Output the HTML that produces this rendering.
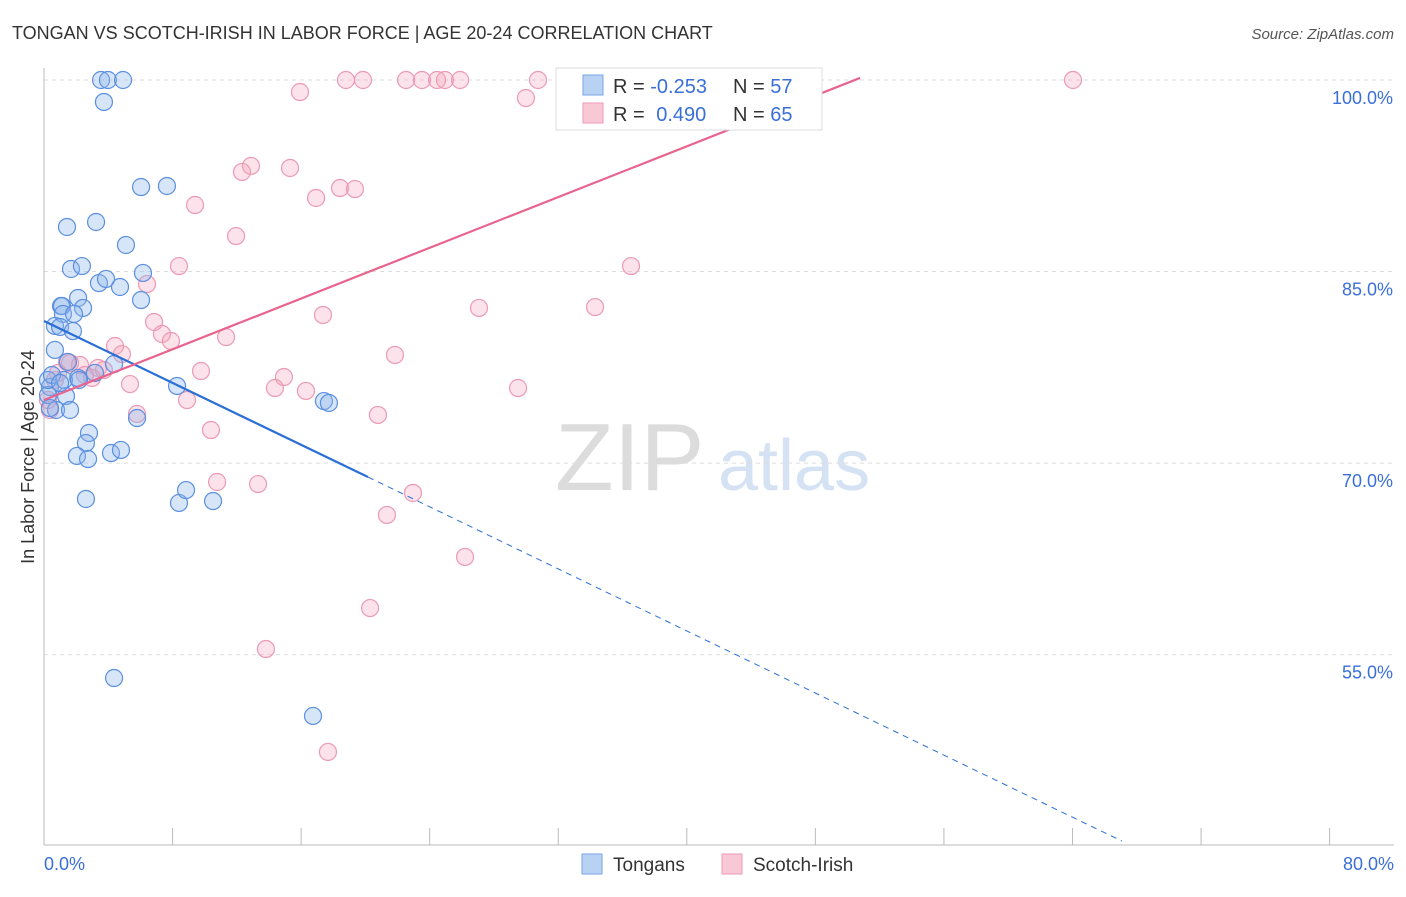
<!DOCTYPE html>
<html><head><meta charset="utf-8"><style>
body{margin:0;background:#fff;font-family:"Liberation Sans",sans-serif}
svg text{font-family:"Liberation Sans",sans-serif}
</style></head><body>
<svg id="chart" width="1406" height="892" xmlns="http://www.w3.org/2000/svg">
<text x="12" y="39" font-size="18" fill="#333">TONGAN VS SCOTCH-IRISH IN LABOR FORCE | AGE 20-24 CORRELATION CHART</text>
<text x="1394" y="39" font-size="15" fill="#555" font-style="italic" text-anchor="end">Source: ZipAtlas.com</text>
<g>
<text x="555" y="490" font-size="96" fill="#dcdcdc" font-family="Liberation Serif">ZIP</text>
<text x="718" y="490" font-size="72" fill="#d4e2f4">atlas</text>
</g>
<g id="grid"></g><g id="axes"></g><g id="pts"></g><g id="trends"></g>
<text transform="translate(34,457) rotate(-90)" font-size="18" fill="#333" text-anchor="middle">In Labor Force | Age 20-24</text>
<g>
<rect x="556" y="68" width="266" height="62" fill="#fff" stroke="#ddd"/>
<rect x="583" y="75" width="20" height="20" fill="#b8d2f4" stroke="#7aa6e6"/>
<rect x="583" y="103" width="20" height="20" fill="#f9c8d6" stroke="#ee9ab4"/>
<text x="613" y="93" font-size="20" fill="#333">R = <tspan fill="#3a6fd8">-0.253</tspan></text>
<text x="733" y="93" font-size="20" fill="#333">N = <tspan fill="#3a6fd8">57</tspan></text>
<text x="613" y="121" font-size="20" fill="#333">R = <tspan fill="#3a6fd8" dx="6">0.490</tspan></text>
<text x="733" y="121" font-size="20" fill="#333">N = <tspan fill="#3a6fd8">65</tspan></text>
</g>
<g>
<rect x="582" y="854" width="20" height="20" fill="#b8d2f4" stroke="#7aa6e6"/>
<text x="613" y="871" font-size="19" fill="#333">Tongans</text>
<rect x="722" y="854" width="20" height="20" fill="#f9c8d6" stroke="#ee9ab4"/>
<text x="753" y="871" font-size="19" fill="#333">Scotch-Irish</text>
</g>
</svg>
<script>
const tonganX=[3.55,3.98,4.92,3.73,6.04,7.65,1.43,3.24,5.10,1.68,2.36,3.42,3.86,4.73,6.16,6.04,2.12,2.43,1.06,1.12,1.18,1.87,0.68,1.00,1.80,0.68,1.49,2.12,1.24,2.18,3.17,4.36,0.37,0.25,1.37,0.75,1.62,0.37,8.28,5.79,17.42,17.73,2.80,2.61,2.05,2.74,4.17,4.79,2.61,8.40,8.84,10.52,4.36,16.74,0.25,0.50,1.00];
const tonganY=[100,100,100,98.28,91.62,91.70,88.49,88.88,87.08,85.20,85.43,84.10,84.42,83.79,84.89,82.77,82.93,82.15,82.30,82.30,81.68,81.68,80.74,80.66,80.34,78.86,77.92,76.67,76.51,76.51,77.06,77.76,75.96,75.33,75.25,74.16,74.16,74.31,76.04,73.53,74.86,74.71,72.36,71.57,70.56,70.32,70.79,71.03,67.19,66.88,67.89,67.03,53.17,50.20,76.51,76.90,76.27];
const scotchX=[18.79,19.85,22.53,23.52,24.46,24.95,25.89,30.74,33.23,37.71,43.31,44.18,64.03,15.93,29.99,12.88,12.32,15.31,18.42,19.35,16.93,9.40,11.95,8.40,6.41,36.53,27.07,34.29,17.36,6.85,7.34,7.90,11.33,4.42,4.85,21.84,1.43,1.62,2.24,3.36,3.73,0.87,2.55,2.99,5.35,9.77,14.93,14.37,16.30,29.50,8.90,5.79,20.78,0.37,10.39,10.77,13.32,22.96,21.34,26.20,20.29,13.81,17.67,0.68,0.25];
const scotchY=[100,100,100,100,100,100,100,100,100,100,100,100,100,99.06,98.59,93.27,92.80,93.11,91.54,91.46,90.76,90.21,87.78,85.43,84.02,85.43,82.15,82.22,81.60,81.05,80.11,79.56,79.87,79.17,78.54,78.47,77.92,77.84,77.68,77.45,77.29,77.06,76.90,76.67,76.19,77.21,76.74,75.88,75.65,75.88,74.94,73.85,73.77,74.16,72.59,68.52,68.36,67.66,65.94,62.65,58.65,55.44,47.38,76.51,74.94];
const yTicks=[100,85,70,55];
const yTickLabels=["100.0%","85.0%","70.0%","55.0%"];
const xTicks=[0,8,16,24,32,40,48,56,64,72,80];
const tonganTrend=[[0,81.13],[20.16,68.91],[67.08,40.4]];
const scotchTrend=[[0,74.94],[50.78,100.16]];
const X=v=>44+v*16.07, Y=v=>80+(100-v)*12.77;
const NS="http://www.w3.org/2000/svg";
function mk(tag,attrs,parent){const e=document.createElementNS(NS,tag);for(const k in attrs)e.setAttribute(k,attrs[k]);document.getElementById(parent).appendChild(e);return e;}
yTicks.forEach((t,i)=>{
 const l=mk('line',{x1:44,x2:1394,y1:Y(t),y2:Y(t),stroke:'#ddd','stroke-dasharray':'4,4'},'grid');
 
 
 const tx=mk('text',{x:1393,y:Y(t)+24,'font-size':18,fill:'#3a6fd8','text-anchor':'end'},'axes');
 tx.textContent=yTickLabels[i];
 
 
});
const ax=mk('line',{x1:44,x2:44,y1:68,y2:845,stroke:'#bbb'},'axes');


const bx=mk('line',{x1:44,x2:1394,y1:845,y2:845,stroke:'#bbb'},'axes');


xTicks.forEach(t=>{
 const l=mk('line',{x1:X(t),x2:X(t),y1:828,y2:845,stroke:'#bbb'},'axes');
 
 
});
[[0,"0.0%",'start',44],[80,"80.0%",'end',1394]].forEach(d=>{
 const t=mk('text',{x:d[3],y:870,'font-size':18,fill:'#3a6fd8','text-anchor':d[2]},'axes');
 t.textContent=d[1];
 
 
});
scotchX.forEach((x,i)=>{
 const c=mk('circle',{cx:X(x),cy:Y(scotchY[i]),r:8.5,fill:'rgba(244,160,185,0.3)',stroke:'#ec9ab3','stroke-width':1.2},'pts');
 
 
});
tonganX.forEach((x,i)=>{
 const c=mk('circle',{cx:X(x),cy:Y(tonganY[i]),r:8.5,fill:'rgba(140,180,235,0.35)',stroke:'#5b8fe0','stroke-width':1.2},'pts');
 
 
});
const bt=mk('line',{x1:X(tonganTrend[0][0]),y1:Y(tonganTrend[0][1]),x2:X(tonganTrend[1][0]),y2:Y(tonganTrend[1][1]),stroke:'#2a6fd6','stroke-width':2.2},'trends');


const bd=mk('line',{x1:X(tonganTrend[1][0]),y1:Y(tonganTrend[1][1]),x2:X(tonganTrend[2][0]),y2:Y(tonganTrend[2][1]),stroke:'#2a6fd6','stroke-width':1,'stroke-dasharray':'6,5'},'trends');


const pt=mk('line',{x1:X(scotchTrend[0][0]),y1:Y(scotchTrend[0][1]),x2:X(scotchTrend[1][0]),y2:Y(scotchTrend[1][1]),stroke:'#e8648e','stroke-width':2.2},'trends');


</script>
</body></html>
